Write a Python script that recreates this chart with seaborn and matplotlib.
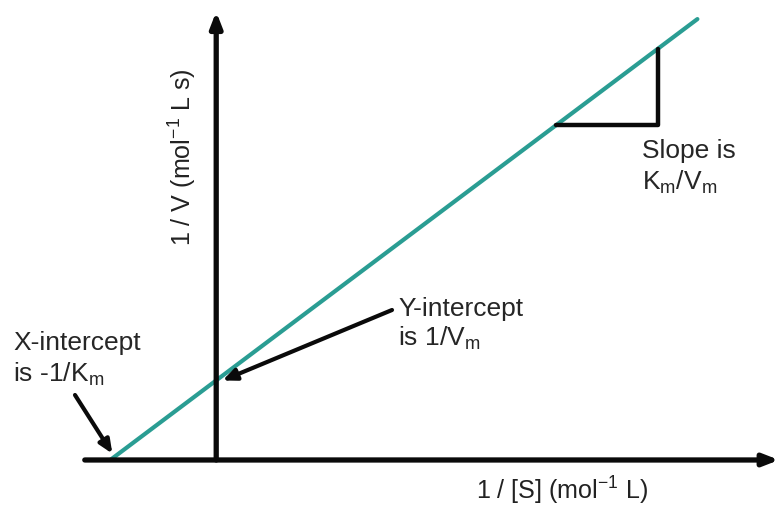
import numpy as np
import matplotlib
matplotlib.use("Agg")
import matplotlib.pyplot as plt
import seaborn as sns

# Lineweaver-Burk plot values (arbitrary units, schematic)
inv_s = [-1.0, 4.54]          # 1/[S] at line ends (x-intercept = -1/Km)
inv_v = [0.0, 4.16]           # 1/V at line ends
y_intercept = 0.75            # 1/Vm
slope_x = [3.21, 4.17, 4.17]  # slope triangle corners
slope_y = [3.16, 3.16, 3.88]

x_label = "1 / [S] (mol$^{\\mathregular{-1}}$ L)"
y_label = "1 / V (mol$^{\\mathregular{-1}}$ L s)"

sns.set_style("white")
plt.rcParams["font.family"] = ["Liberation Sans", "DejaVu Sans"]
plt.rcParams["mathtext.fontset"] = "custom"
plt.rcParams["mathtext.rm"] = "Liberation Sans"

W, H = 779, 508
fig = plt.figure(figsize=(W / 100, H / 100), dpi=100)
ax = fig.add_axes([0, 0, 1, 1])
ax.set_xlim(-2.04, 5.31)
ax.set_ylim(-0.453, 4.34)
ax.axis("off")


def fx(px):
    return px / W


def fy(py):
    return 1 - py / H


black = "#0a0a0a"
teal = "#2a9d93"

# axes with arrow heads
ax.annotate("", xy=(5.31, 0), xytext=(-1.24, 0),
            arrowprops=dict(arrowstyle="-|>,head_length=0.9,head_width=0.35",
                            color=black, lw=3.8, shrinkA=0, shrinkB=0))
ax.annotate("", xy=(0, 4.23), xytext=(0, 0),
            arrowprops=dict(arrowstyle="-|>,head_length=0.9,head_width=0.35",
                            color=black, lw=3.8, shrinkA=0, shrinkB=0))

# data line and slope triangle
sns.lineplot(x=inv_s, y=inv_v, ax=ax, color=teal, lw=3.0, sort=False, estimator=None)
sns.lineplot(x=slope_x, y=slope_y, ax=ax, color=black, lw=3.2, sort=False, estimator=None)

fs = 19
ax.text(fx(562), fy(491), x_label, transform=ax.transAxes, fontsize=fs * 0.95,
        ha="center", va="center", color="#222222")
ax.text(fx(183), fy(157), y_label, transform=ax.transAxes, fontsize=fs * 0.95,
        ha="center", va="center", rotation=90, color="#222222")

ax.text(fx(13), fy(350), "X-intercept", transform=ax.transAxes, fontsize=fs, va="baseline")
ax.text(fx(13), fy(382), "is -1/K$_{\\mathregular{m}}$", transform=ax.transAxes, fontsize=fs, va="baseline")
ax.text(fx(398), fy(316), "Y-intercept", transform=ax.transAxes, fontsize=fs, va="baseline")
ax.text(fx(398), fy(346), "is 1/V$_{\\mathregular{m}}$", transform=ax.transAxes, fontsize=fs, va="baseline")
ax.text(fx(642), fy(158), "Slope is", transform=ax.transAxes, fontsize=fs, va="baseline")
ax.text(fx(642), fy(190), "K$_{\\mathregular{m}}$/V$_{\\mathregular{m}}$", transform=ax.transAxes,
        fontsize=fs, va="baseline")

# annotation arrows
ax.annotate("", xy=(inv_s[0] + 0.02, 0.06), xycoords="data",
            xytext=(fx(75), fy(395)), textcoords="axes fraction",
            arrowprops=dict(arrowstyle="-|>,head_length=0.8,head_width=0.35",
                            color=black, lw=3, shrinkA=0, shrinkB=0))
ax.annotate("", xy=(0.06, y_intercept), xycoords="data",
            xytext=(fx(392), fy(310)), textcoords="axes fraction",
            arrowprops=dict(arrowstyle="-|>,head_length=0.8,head_width=0.35",
                            color=black, lw=3, shrinkA=0, shrinkB=0))

fig.savefig("out.png", dpi=100)
